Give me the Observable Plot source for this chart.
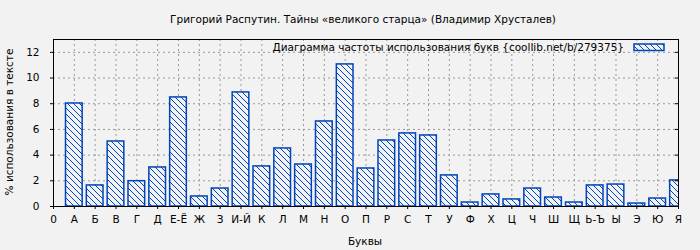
<!DOCTYPE html>
<html><head><meta charset="utf-8">
<script src="https://cdn.jsdelivr.net/npm/d3@7"></script>
<script src="https://cdn.jsdelivr.net/npm/@observablehq/plot@0.6"></script>
<style>body{margin:0;background:#f2f2f2;}</style>
</head><body><div id="chart"></div>
<script>
const letters = ["А","Б","В","Г","Д","Е-Ё","Ж","З","И-Й","К","Л","М","Н","О","П","Р","С","Т","У","Ф","Х","Ц","Ч","Ш","Щ","Ь-Ъ","Ы","Э","Ю","Я"];
const values = [8.02,1.64,5.06,1.97,3.04,8.49,0.78,1.40,8.88,3.12,4.52,3.27,6.62,11.06,2.96,5.14,5.69,5.53,2.42,0.31,0.94,0.55,1.40,0.70,0.31,1.64,1.71,0.23,0.62,2.03];
const tickLabels = ["0", ...letters];
const yTicks = [0,2,4,6,8,10,12];
const titleText = "Григорий Распутин. Тайны «великого старца» (Владимир Хрусталев)";
const xLabel = "Буквы";
const yLabel = "% использования в тексте";
const legendText = "Диаграмма частоты использования букв {coollib.net/b/279375}";

const blue = "#0044bb";
const bg = "#f2f2f2";
const data = letters.map((l, i) => ({pos: i + 1, letter: l, value: values[i]}));
const positions = d3.range(0, letters.length + 1);

const plot = Plot.plot({
  width: 700, height: 250,
  marginLeft: 53, marginRight: 22, marginTop: 39, marginBottom: 44,
  style: {background: bg, fontFamily: "DejaVu Sans", fontSize: "10.5px", color: "#000"},
  x: {domain: [0, letters.length]},
  y: {domain: [0, 13]},
  marks: [
    Plot.gridX(positions.slice(1, -1), {stroke: "#999", strokeOpacity: 1, strokeDasharray: "2,3"}),
    Plot.gridY(yTicks.slice(1), {stroke: "#999", strokeOpacity: 1, strokeDasharray: "2,3"}),
    Plot.rect(data, {x1: d => d.pos - 0.4, x2: d => d.pos + 0.4, y1: 0, y2: "value", fill: "url(#hatch)", stroke: blue, strokeWidth: 1.5, clip: true}),
    Plot.frame({stroke: "#000"}),
    Plot.axisX({ticks: positions, tickFormat: d => tickLabels[d], tickSize: 3, tickPadding: 6, label: null, stroke: "#000"}),
    Plot.axisY({ticks: yTicks, tickSize: 3, tickPadding: 11, label: null}),
    Plot.axisY({ticks: yTicks, anchor: "right", tickSize: -4, tickFormat: () => "", label: null})
  ]
});

const svg = d3.select(plot);
const defs = svg.insert("defs", ":first-child");
const pat = defs.append("pattern").attr("id", "hatch").attr("patternUnits", "userSpaceOnUse").attr("width", 6).attr("height", 6);
pat.append("rect").attr("width", 6).attr("height", 6).attr("fill", bg);
pat.append("path").attr("d", "M-1,-1L7,7M-1,5L1,7M5,-1L7,1").attr("stroke", blue).attr("stroke-width", 1);

const t = svg.append("g").attr("font-family", "DejaVu Sans").attr("font-size", 10.5).attr("fill", "#000");
t.append("text").attr("x", 363).attr("y", 22.5).attr("text-anchor", "middle").text(titleText);
t.append("text").attr("x", 365).attr("y", 245).attr("text-anchor", "middle").text(xLabel);
t.append("text").attr("transform", "translate(13,122) rotate(-90)").attr("text-anchor", "middle").text(yLabel);
t.append("text").attr("x", 624).attr("y", 51).attr("text-anchor", "end").text(legendText);
t.append("rect").attr("x", 634).attr("y", 44).attr("width", 30).attr("height", 6.5).attr("fill", "url(#hatch)").attr("stroke", blue).attr("stroke-width", 1.5);

document.getElementById("chart").appendChild(plot);
</script>
</body></html>
